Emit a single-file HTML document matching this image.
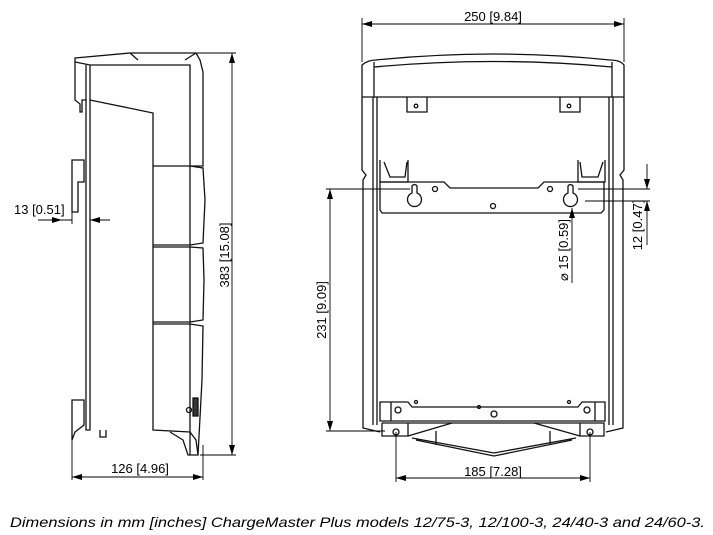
<!DOCTYPE html>
<html><head><meta charset="utf-8"><style>
html,body{margin:0;padding:0;background:#fff;width:713px;height:535px;overflow:hidden}
svg{display:block}
text{font-family:"Liberation Sans",Arial,sans-serif;fill:#000}
</style></head><body>
<svg width="713" height="535" viewBox="0 0 713 535" xmlns="http://www.w3.org/2000/svg">
<defs>
<marker id="a" viewBox="0 0 10 6" refX="10" refY="3" markerWidth="10" markerHeight="6" orient="auto-start-reverse" markerUnits="userSpaceOnUse"><path d="M0,0L10,3L0,6z" fill="#000"/></marker>
</defs>
<g fill="none" stroke="#111" stroke-width="1.3">
<!-- SIDE VIEW -->
<path d="M75,58 L130,53 L196,53 L200,60 L203,72 L203,166 L190,166 L190,65 L90,65 L75,62 Z"/>
<path d="M75,62 L75,100 L80,104 L80,112 L82,112 L82,100 L86,100 L86,430 L90,430 L90,100 L153,113 L153,166"/>
<path d="M130,53 L138,60 M185,60 L196,53"/>
<path d="M86,65 L86,100 M90,65 L90,100"/>
<path d="M153,166 L153,430 L190,432 L196,440 L198,455 L188,455 L183,440 L170,432"/>
<path d="M153,166 L190,166 L203,168 L205,200 L203,243 L190,245 L153,245 M190,166 L190,455"/>
<path d="M153,247 L190,247 L203,248 L204,280 L203,320 L190,322 L153,322"/>
<path d="M153,324 L190,324 L203,326 L202,380 L198,455"/>
<path d="M72,160 L84,160 L84,182 L78,182 L78,212 L72,212 Z"/>
<path d="M72,400 L84,400 L84,425 L75,432 L72,440 Z M100,430 L100,437 L106,437 L106,430"/>
<rect x="193" y="398" width="5" height="18" fill="#333"/><circle cx="189" cy="410" r="2.5"/>
</g>
<g stroke="#000" stroke-width="0.9" fill="none">
<line x1="196" y1="53" x2="236" y2="53"/><line x1="200" y1="455" x2="236" y2="455"/>
<line x1="232" y1="53" x2="232" y2="455" marker-start="url(#a)" marker-end="url(#a)"/>
<line x1="72" y1="440" x2="72" y2="480"/><line x1="203" y1="445" x2="203" y2="480"/>
<line x1="72" y1="477" x2="203" y2="477" marker-start="url(#a)" marker-end="url(#a)"/>
<line x1="38" y1="220" x2="62" y2="220" marker-end="url(#a)"/>
<line x1="72" y1="212" x2="72" y2="224"/>
<line x1="110" y1="220" x2="90" y2="220" marker-end="url(#a)"/>
<line x1="40" y1="220" x2="72" y2="220"/>
</g>
<text x="14" y="214" font-size="13">13 [0.51]</text>
<text transform="translate(229,255) rotate(-90)" font-size="13" text-anchor="middle">383 [15.08]</text>
<text x="140" y="473" font-size="13" text-anchor="middle">126 [4.96]</text>

<!-- FRONT VIEW -->
<g fill="none" stroke="#111" stroke-width="1.3">
<path d="M362,65 Q368,60 376,60 Q494,48 610,60 Q620,60 624,65 L624,97 L362,97 Z"/>
<path d="M374,67 Q494,56 612,67"/>
<path d="M374,62 L374,97 M612,62 L612,97"/>
<path d="M362,97 L362,170 L366,175 L363,180 L363,428 L380,432 M624,97 L624,170 L620,175 L623,180 L623,428 L606,432"/>
<path d="M373,97 L373,425 M377,97 L377,425 M609,97 L609,425 M613,97 L613,425"/>
<path d="M407,97 L407,112 L427,112 L427,97 M560,97 L560,112 L580,112 L580,97"/>
<circle cx="416" cy="106" r="1.8"/><circle cx="569" cy="106" r="1.8"/>
<path d="M380,160 L380,182 L408,182 L408,160 M384,162 L390,177 L405,177 L407,162 M578,160 L578,182 L605,182 L605,160 M580,162 L582,177 L598,177 L603,162"/>
<path d="M380,182 L444,182 L450,188 L538,188 L544,182 L604,182 L604,210 L601,213 L382,213 L380,210 Z"/>
<path d="M412,186 A3,3 0 0 1 417,186 L417,193 A7,7 0 1 1 412,193 Z"/>
<path d="M568,186 A3,3 0 0 1 573,186 L573,193 A7,7 0 1 1 568,193 Z"/>
<circle cx="435" cy="189" r="2.5"/><circle cx="550" cy="189" r="2.5"/><circle cx="493" cy="206" r="2.5"/>
<path d="M380,402 L408,402 L412,407 L578,407 L582,402 L605,402 L605,421 L380,421 Z M391,402 L391,421 M595,402 L595,421"/>
<circle cx="398" cy="410" r="3"/><circle cx="587" cy="410" r="3"/><circle cx="494" cy="414" r="3"/>
<circle cx="416" cy="402" r="1.5"/><circle cx="479" cy="407" r="1.5"/><circle cx="569" cy="402" r="1.5"/>
<path d="M382,423 L604,423 L604,436 L580,436 L580,423 M382,423 L382,436 L408,436 L408,423"/>
<path d="M408,436 L452,423 M580,436 L534,423 M412,438 L494,453 L576,438 M416,440 L494,456 L572,440 M436,431 L436,445 M550,431 L550,445"/>
<circle cx="396" cy="432" r="3"/><circle cx="590" cy="432" r="3"/>
</g>
<g stroke="#000" stroke-width="0.9" fill="none">
<line x1="362" y1="18" x2="362" y2="62"/><line x1="624" y1="18" x2="624" y2="62"/>
<line x1="362" y1="24" x2="624" y2="24" marker-start="url(#a)" marker-end="url(#a)"/>
<line x1="326" y1="189" x2="410" y2="189"/><line x1="326" y1="431" x2="385" y2="431"/>
<line x1="330" y1="189" x2="330" y2="431" marker-start="url(#a)" marker-end="url(#a)"/>
<line x1="578" y1="189" x2="650" y2="189"/><line x1="585" y1="201" x2="650" y2="201"/>
<line x1="647" y1="164" x2="647" y2="189" marker-end="url(#a)"/>
<line x1="647" y1="245" x2="647" y2="201" marker-end="url(#a)"/>
<line x1="572" y1="283" x2="572" y2="208" marker-end="url(#a)"/>
<line x1="396" y1="432" x2="396" y2="482"/><line x1="590" y1="432" x2="590" y2="482"/>
<line x1="396" y1="478" x2="590" y2="478" marker-start="url(#a)" marker-end="url(#a)"/>
</g>
<text x="493" y="21" font-size="13" text-anchor="middle">250 [9.84]</text>
<text transform="translate(326,310) rotate(-90)" font-size="13" text-anchor="middle">231 [9.09]</text>
<text transform="translate(568,250) rotate(-90)" font-size="13" text-anchor="middle">⌀ 15 [0.59]</text>
<text transform="translate(642,225) rotate(-90)" font-size="13" text-anchor="middle">12 [0.47]</text>
<text x="493" y="476" font-size="13" text-anchor="middle">185 [7.28]</text>

<text x="10" y="527" font-size="14" font-style="italic" textLength="695" lengthAdjust="spacingAndGlyphs">Dimensions in mm [inches] ChargeMaster Plus models 12/75-3, 12/100-3, 24/40-3 and 24/60-3.</text>
</svg>
</body></html>
